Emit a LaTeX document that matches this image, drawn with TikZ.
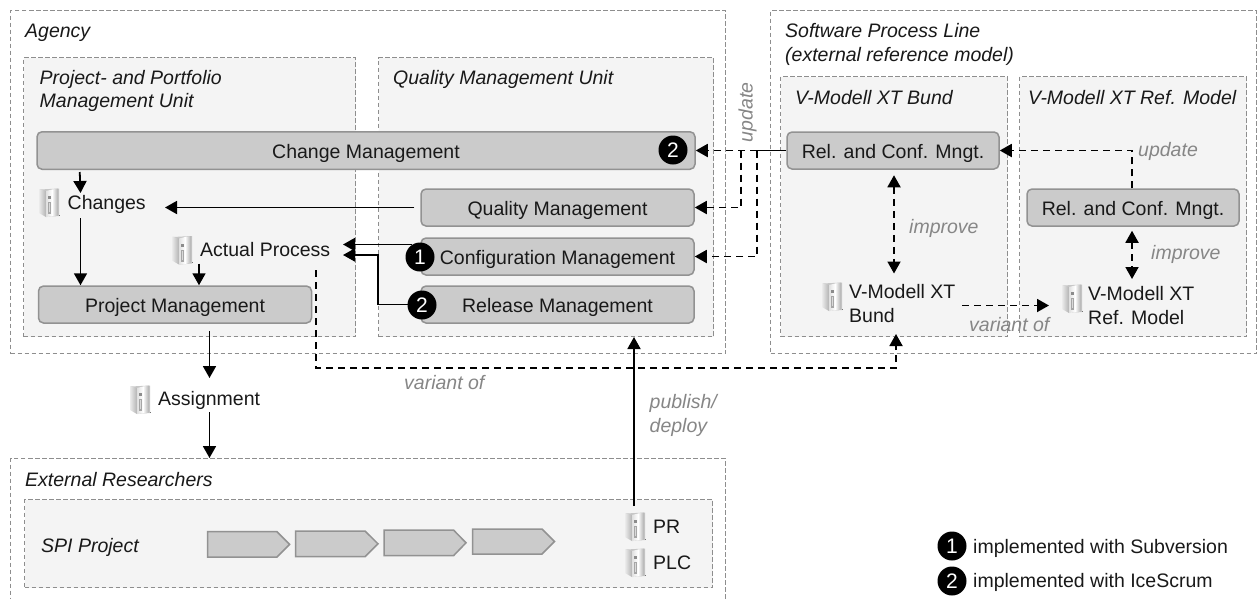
\documentclass[tikz,border=0pt]{standalone}
\usepackage{fontspec}
\setmainfont{Liberation Sans}
\usetikzlibrary{arrows.meta,shapes.geometric,shapes.symbols,calc}
\definecolor{framec}{HTML}{8E8E8E}
\definecolor{unitc}{HTML}{F4F4F4}
\definecolor{boxc}{HTML}{CBCBCB}
\definecolor{boxl}{HTML}{929292}
\definecolor{lblc}{HTML}{868686}
\tikzset{
  x=1pt,y=-1pt,
  txtfont/.style={font=\fontsize{19.5}{22}\selectfont},
  outer/.style={draw=framec,line width=1pt,dash pattern=on 4.5pt off 2.5pt,fill=white},
  unit/.style={draw=framec,line width=1pt,dash pattern=on 4.5pt off 2.5pt,fill=unitc},
  procbox/.style={draw=boxl,line width=1.5pt,fill=boxc,rounded corners=5pt,inner sep=0pt,txtfont,text height=15pt,text depth=0pt,text=black!90},
  title/.style={anchor=base west,inner sep=0pt,font=\fontsize{19.5}{22}\selectfont\itshape,text=black!90},
  plain/.style={anchor=base west,inner sep=0pt,txtfont,text=black!90},
  lbl/.style={anchor=base west,inner sep=0pt,font=\fontsize{19.5}{22}\selectfont\itshape,text=lblc},
  badge/.style={circle,fill=black,text=white,inner sep=0pt,minimum size=29pt,font=\fontsize{21}{22}\selectfont},
  arr/.style={line width=1.8pt,-{Triangle[width=13pt,length=12pt]}},
  darr/.style={arr,dash pattern=on 7pt off 5pt},
  bidarr/.style={darr,{Triangle[width=13pt,length=12pt]}-{Triangle[width=13pt,length=12pt]}},
  trunk/.style={line width=1.8pt},
  chev/.style={draw=boxl,line width=1.5pt,fill=boxc,miter limit=2},
  pics/binder/.style={code={
    \fill[black!22] (1,1.5) -- (20,0.5) -- (20,28) -- (8,29) -- (1,25) -- cycle;
    \shade[left color=black!8,right color=black!30] (0,1) -- (7,3) -- (7,29) -- (0,25) -- cycle;
    \shade[left color=black!12,right color=white] (7,3) -- (13,1.5) -- (13,28.5) -- (7,29) -- cycle;
    \shade[left color=white,right color=black!32] (13,1.5) -- (19,0.5) -- (19,27.5) -- (13,28.5) -- cycle;
    \fill[black!45] (9,8) rectangle (11.5,11);
    \fill[black!35] (9,14) rectangle (11.5,26);
    \fill[black!15] (9.6,15) rectangle (10.9,24);
    \fill[black!55] (20,26.5) rectangle (21,27.5);
  }},
}
\begin{document}
\begin{tikzpicture}
\useasboundingbox (0,0) rectangle (1257,598);
\begin{scope}
\clip (0,0) rectangle (1257,598);
% containers
\node[outer,rectangle,inner sep=0pt,minimum width=715pt,minimum height=343pt,anchor=north west] (agency) at (10,10) {};
\node[outer,rectangle,inner sep=0pt,minimum width=486pt,minimum height=343pt,anchor=north west] (spl) at (770,10) {};
\node[unit,rectangle,inner sep=0pt,minimum width=332pt,minimum height=279pt,anchor=north west] (ppm) at (23,57) {};
\node[unit,rectangle,inner sep=0pt,minimum width=335pt,minimum height=279pt,anchor=north west] (qmu) at (378,57) {};
\node[unit,rectangle,inner sep=0pt,minimum width=227pt,minimum height=260pt,anchor=north west] (vbu) at (780,76) {};
\node[unit,rectangle,inner sep=0pt,minimum width=227pt,minimum height=260pt,anchor=north west] (vru) at (1019,76) {};
\node[outer,rectangle,inner sep=0pt,minimum width=715pt,minimum height=160pt,anchor=north west] (ext) at (10,458) {};
\node[unit,rectangle,inner sep=0pt,minimum width=688pt,minimum height=88pt,anchor=north west] (spi) at (24,499) {};
\end{scope}
% titles
\node[title] (tAgency) at (25,37) {Agency};
\node[title] (tPPM1) at (39.5,84) {Project- and Portfolio};
\node[title] (tPPM2) at (39.5,107) {Management Unit};
\node[title] (tQMU) at (393,84) {Quality Management Unit};
\node[title] (tSPL1) at (785,37) {Software Process Line};
\node[title] (tSPL2) at (785,61) {(external reference model)};
\node[title] (tVB) at (795,104) {V-Modell XT Bund};
\node[title] (tVR) at (1028,104) {V-Modell XT Ref. Model};
\node[title] (tExt) at (25,486) {External Researchers};
\node[title] (tSPI) at (41,552) {SPI Project};
% process boxes
\node[procbox,minimum width=658pt,minimum height=37.5pt] (cm) at (366,150.5) {Change Management};
\node[procbox,minimum width=273pt,minimum height=37pt] (qm) at (557.5,207.5) {Quality Management};
\node[procbox,minimum width=273pt,minimum height=37pt] (cfg) at (557.5,256.5) {Configuration Management};
\node[procbox,minimum width=273pt,minimum height=37pt] (rm) at (557.5,304.5) {Release Management};
\node[procbox,minimum width=273pt,minimum height=37pt] (pm) at (175,304.5) {Project Management};
\node[procbox,minimum width=212pt,minimum height=37pt] (relb) at (893,150.5) {Rel. and Conf. Mngt.};
\node[procbox,minimum width=212pt,minimum height=37pt] (relr) at (1133,207.5) {Rel. and Conf. Mngt.};
% artefacts
\pic (iChanges) at (39,188) {binder};
\pic (iActual) at (172,235.5) {binder};
\pic (iAssign) at (130,385) {binder};
\pic (iVB) at (822,282) {binder};
\pic (iVR) at (1062,284) {binder};
\pic (iPR) at (625,512) {binder};
\pic (iPLC) at (625,548) {binder};
\node[plain] (changes) at (67.5,209) {Changes};
\node[plain] (actual) at (200,256) {Actual Process};
\node[plain] (assign) at (158,405) {Assignment};
\node[plain] (pr) at (653,533) {PR};
\node[plain] (plc) at (653,569) {PLC};
\node[plain] (vb1) at (849,298) {V-Modell XT};
\node[plain] (vb2) at (849,322) {Bund};
\node[plain] (vr1) at (1088,300) {V-Modell XT};
\node[plain] (vr2) at (1088,324) {Ref. Model};
% chevrons
\draw[chev] (207.6,531.7) -- (277,531.7) -- (289.6,544.4) -- (277,557) -- (207.6,557) -- cycle;
\draw[chev] (295.6,531) -- (365,531) -- (378,543.8) -- (365,556.7) -- (295.6,556.7) -- cycle;
\draw[chev] (384,530) -- (453.5,530) -- (466,542.8) -- (453.5,555.7) -- (384,555.7) -- cycle;
\draw[chev] (472.5,529) -- (542,529) -- (554.5,541.5) -- (542,554) -- (472.5,554) -- cycle;
% connector ends
\coordinate (changesTop) at (80.5,193);
\coordinate (changesBot) at (80.5,218);
\coordinate (changesEast) at (165,207.5);
\coordinate (actualBot) at (199,263.5);
\coordinate (actualE1) at (343,244.5);
\coordinate (actualE2) at (343,255);
\coordinate (actualOut) at (316,270);
\coordinate (assignTop) at (209.5,378);
\coordinate (assignBot) at (209.5,412);
\coordinate (prTop) at (634,506);
\coordinate (vbEast) at (962,305.5);
\coordinate (vrWest) at (1049,305.5);
\coordinate (vbBottom) at (896,334);
\coordinate (forkA) at (741,150.5);
\coordinate (forkB) at (757,150.5);
% solid connectors
\draw[arr] ([xshift=43.5pt,yshift=-2pt]cm.south west) -- (changesTop);
\draw[arr] (changesBot) -- (pm.north -| changesBot);
\draw[arr] ([xshift=-6pt]qm.west) -- (changesEast);
\draw[arr] (actualBot) -- (pm.north -| actualBot);
\draw[arr] ([yshift=-1pt]pm.south -| assignTop) ++(0,6) -- (assignTop);
\draw[arr] (assignBot) -- (assignBot |- ext.north);
\draw[arr] (prTop) -- (prTop |- qmu.south);
\draw[arr] (actualE1 -| cfg.west) ++(-8,0) -- (actualE1);
\draw[arr] (rm.west) ++(-10,0) -- (378,304.5) -- (378,255) -- (actualE2);
% dashed connectors
\draw[darr] (actualOut) -- (316,368) -- (896,368) -- (vbBottom);
\draw[trunk] (relb.west) -- (forkB);
\draw[darr] (forkB) -- (cm.east);
\draw[darr] (forkA) -- (741,207.5) -- (qm.east);
\draw[darr] (forkB) -- (757,256.5) -- (cfg.east);
\draw[darr] (relr.north -| 1132,0) -- (1132,150.5) -- (relb.east);
\draw[bidarr] ([yshift=-5.5pt]relb.south -| 894,0) -- (894,273.5);
\draw[bidarr] ([yshift=-4pt]relr.south -| 1132,0) -- (1132,279);
\draw[darr] (vbEast) -- (vrWest);
% connector labels
\node[lbl,rotate=90,anchor=mid] (lUp1) at (750,112.5) {update};
\node[lbl] (lUp2) at (1138,156) {update};
\node[lbl] (lImp1) at (909,233) {improve};
\node[lbl] (lImp2) at (1151,259) {improve};
\node[lbl] (lVar1) at (969,331) {variant of};
\node[lbl] (lVar2) at (404,389) {variant of};
\node[lbl] (lPub1) at (649.5,408) {publish/};
\node[lbl] (lPub2) at (649.5,432) {deploy};
% badges
\node[badge] (b1) at (673,150) {2};
\node[badge] (b2) at (420,257) {1};
\node[badge] (b3) at (422,305) {2};
\node[badge] (k1) at (952,546) {1};
\node[badge] (k2) at (952,581) {2};
\node[plain] (k1t) at (973,553) {implemented with Subversion};
\node[plain] (k2t) at (973,587) {implemented with IceScrum};
\end{tikzpicture}
\end{document}
